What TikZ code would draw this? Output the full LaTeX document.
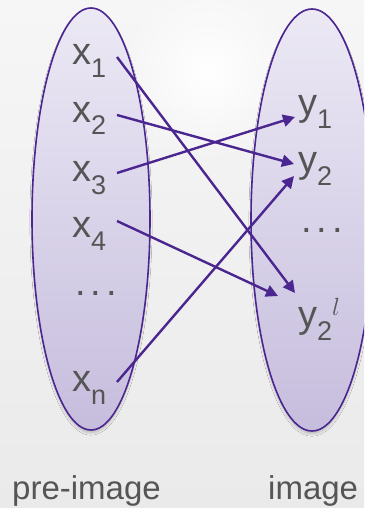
\documentclass[tikz,border=0pt]{standalone}
\usepackage{fontspec}
\setmainfont{Liberation Sans}
\usetikzlibrary{arrows.meta,shadows.blur,fadings}
\definecolor{bgtop}{HTML}{F6F6F6}
\definecolor{bgbot}{HTML}{EAEAEA}
\definecolor{setline}{HTML}{4B2690}
\definecolor{settop}{HTML}{ECE9F5}
\definecolor{setbot}{HTML}{C6BDDD}
\definecolor{labelgray}{HTML}{555555}
\tikzfading[name=glowfade, inner color=transparent!0, outer color=transparent!100]
\tikzset{
  setshape/.style={draw=setline, line width=1.6pt, top color=settop, bottom color=setbot,
    blur shadow={shadow xshift=0pt, shadow yshift=-3pt, shadow blur steps=6, shadow opacity=20}},
  maparrow/.style={draw=setline, line width=2.4pt, -{Triangle[length=12pt,width=12pt]}},
  elem/.style={anchor=base west, inner sep=0pt, text=labelgray, font=\fontsize{38}{40}\selectfont},
  caption/.style={anchor=base west, inner sep=0pt, text=labelgray, font=\fontsize{33}{36}\selectfont},
}
\newcommand{\lowsub}[1]{\raisebox{-13pt}{\fontsize{27}{28}\selectfont #1}}
\newcommand{\elemdots}{.\hspace{5pt}.\hspace{5pt}.}
\begin{document}
\begin{tikzpicture}[x=1pt,y=-1pt]
\useasboundingbox (0,0) rectangle (364,508);
\shade[top color=bgtop, bottom color=bgbot] (0,0) rectangle (364,508);
\fill[white, path fading=glowfade] (208,72) circle (90);
\begin{scope}
\clip (0,0) rectangle (364,508);
\path[setshape] (91,219) ellipse (59 and 211);
\path[setshape] (312,220) ellipse (61 and 211);
\end{scope}
% pre-image elements
\node[elem] (x1) at (72,65) {x\lowsub{1}};
\node[elem] (x2) at (72,122) {x\lowsub{2}};
\node[elem] (x3) at (72,181) {x\lowsub{3}};
\node[elem] (x4) at (72,237) {x\lowsub{4}};
\node[elem] (xd) at (75,295) {\elemdots};
\node[elem] (xn) at (72,391) {x\lowsub{n}};
% image elements
\node[elem] (y1) at (298,116) {y\lowsub{1}};
\node[elem] (y2) at (298,172) {y\lowsub{2}};
\node[elem] (yd) at (301,232) {\elemdots};
\node[elem] (y3) at (298,327) {y\lowsub{2}\raisebox{12pt}{\fontsize{24}{24}\selectfont$l$}};
% connector endpoints
\coordinate (x1o) at (117,57);
\coordinate (x2o) at (117,115);
\coordinate (x3o) at (117,173);
\coordinate (x4o) at (117,221);
\coordinate (xno) at (117,382);
\coordinate (y1i) at (295,117);
\coordinate (y2i) at (294,164);
\coordinate (y2j) at (294,176);
\coordinate (y3i) at (295,293);
\coordinate (y3j) at (278,296);
\draw[maparrow] (x1o) -- (y3i);
\draw[maparrow] (x2o) -- (y2i);
\draw[maparrow] (x3o) -- (y1i);
\draw[maparrow] (x4o) -- (y3j);
\draw[maparrow] (xno) -- (y2j);
% captions
\node[caption] (pre) at (12,499) {pre-image};
\node[caption] (img) at (268,499) {image};
\end{tikzpicture}
\end{document}
